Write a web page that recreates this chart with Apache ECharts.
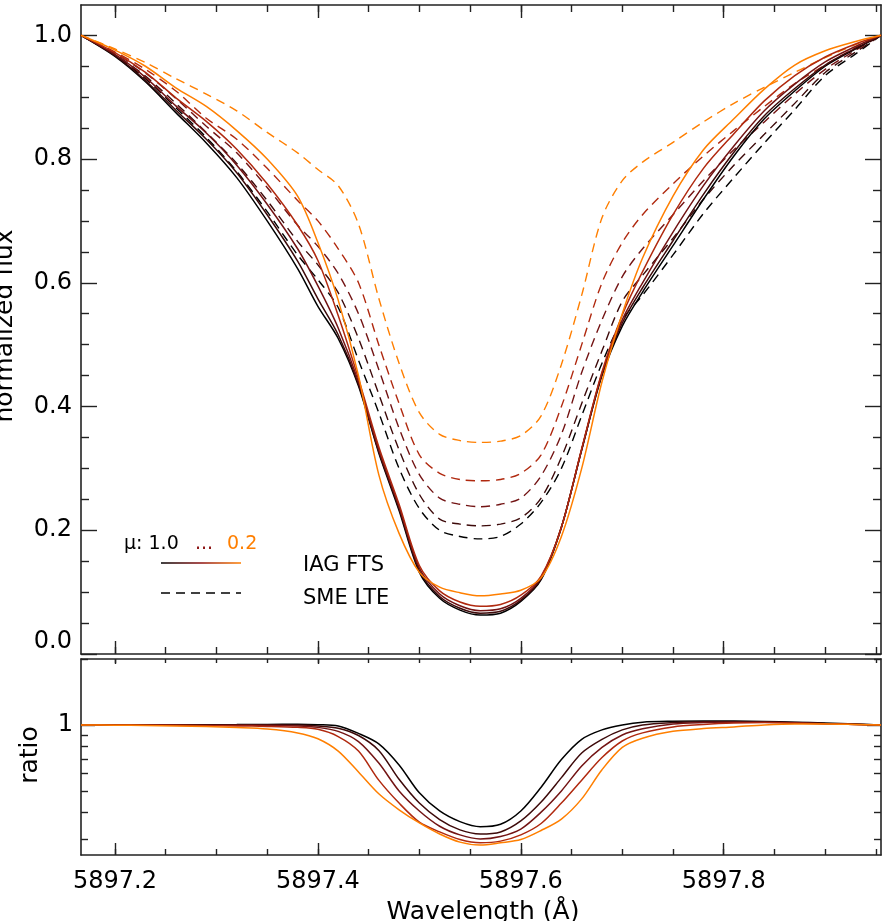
<!DOCTYPE html>
<html>
<head>
<meta charset="utf-8">
<title>Na D line centre-to-limb</title>
<script src="https://cdn.jsdelivr.net/npm/echarts@6/dist/echarts.min.js"></script>
<style>
  html, body { margin: 0; padding: 0; background: #fff; }
  #chart { width: 886px; height: 921px; }
</style>
</head>
<body>
<div id="chart"></div>
<script>
// wavelength grid (Angstrom)
const wavelength = [5897.1665, 5897.20, 5897.23, 5897.26, 5897.29, 5897.32, 5897.35, 5897.38, 5897.40, 5897.42,
  5897.44, 5897.46, 5897.48, 5897.50, 5897.52, 5897.54, 5897.56, 5897.58, 5897.60, 5897.62,
  5897.64, 5897.66, 5897.68, 5897.70, 5897.72, 5897.75, 5897.78, 5897.81, 5897.84, 5897.87,
  5897.90, 5897.93, 5897.955];

const muLabels = ['1.0', '0.8', '0.6', '0.4', '0.2'];
const muColors = ['#000000', '#3d0a0a', '#731414', '#b0290f', '#ff7f00'];

// IAG FTS observed profiles, one per mu
const iag10 = [1.0, .966, .925, .875, .826, .77, .70, .623, .562, .51, .433, .325, .232, .132, .09, .071, .063, .066, .085, .12, .205, .33, .45, .53, .585, .66, .735, .805, .865, .91, .95, .978, 1.0];
const iag08 = [1.0, .967, .927, .879, .832, .778, .71, .635, .574, .516, .436, .327, .235, .135, .093, .074, .066, .069, .087, .122, .205, .33, .452, .535, .592, .668, .743, .811, .87, .914, .952, .979, 1.0];
const iag06 = [1.0, .969, .932, .886, .842, .79, .727, .655, .595, .527, .44, .33, .238, .139, .097, .078, .07, .073, .09, .124, .205, .331, .454, .54, .60, .682, .757, .821, .878, .921, .957, .982, 1.0];
const iag04 = [1.0, .972, .94, .899, .861, .816, .76, .693, .636, .547, .445, .335, .242, .143, .102, .084, .077, .08, .095, .126, .205, .332, .456, .548, .618, .71, .785, .841, .894, .935, .965, .986, 1.0];
const iag02 = [1.0, .976, .95, .915, .885, .846, .80, .74, .665, .572, .45, .29, .195, .132, .108, .099, .094, .097, .103, .123, .19, .30, .44, .55, .64, .74, .815, .865, .913, .952, .975, .99, 1.0];

// SME LTE synthetic profiles
const sme10 = [1.0, .968, .93, .883, .835, .78, .715, .645, .605, .56, .475, .39, .30, .235, .2, .19, .186, .19, .21, .245, .30, .385, .47, .54, .58, .645, .712, .77, .826, .88, .935, .97, 1.0];
const sme08 = [1.0, .969, .934, .89, .843, .793, .733, .667, .629, .584, .51, .42, .33, .258, .218, .21, .207, .21, .22, .252, .318, .405, .49, .57, .612, .672, .735, .79, .84, .89, .94, .973, 1.0];
const sme06 = [1.0, .971, .939, .898, .853, .81, .754, .693, .659, .615, .55, .46, .365, .29, .252, .242, .238, .242, .252, .288, .355, .455, .54, .61, .655, .71, .765, .815, .86, .905, .945, .976, 1.0];
const sme04 = [1.0, .973, .945, .91, .866, .832, .785, .733, .70, .655, .60, .50, .405, .322, .292, .282, .28, .282, .292, .322, .40, .50, .60, .665, .71, .76, .805, .846, .885, .922, .952, .98, 1.0];
const sme02 = [1.0, .978, .956, .93, .905, .878, .843, .81, .783, .757, .695, .575, .47, .39, .355, .345, .342, .344, .353, .385, .468, .58, .705, .765, .795, .827, .86, .89, .916, .94, .964, .985, 1.0];

// ratio panel
const ratio10 = [1.0, 1.0, 1.0, 1.002, 1.003, 1.004, 1.006, 1.007, 1.003, .99, .915, .82, .657, .49, .405, .362, .343, .352, .405, .52, .695, .86, .95, 1.0, 1.03, 1.04, 1.043, 1.042, 1.038, 1.03, 1.02, 1.01, 1.0];
const ratio08 = [1.0, 1.0, 1.0, 1.0, 1.0, 1.001, 1.002, 1.0, .99, .966, .895, .765, .565, .44, .37, .332, .318, .325, .365, .445, .575, .745, .86, .95, 1.0, 1.025, 1.035, 1.035, 1.03, 1.025, 1.015, 1.008, 1.0];
const ratio06 = [1.0, 1.0, .999, .998, .998, .998, .995, .99, .975, .935, .84, .67, .50, .405, .345, .315, .302, .31, .335, .40, .50, .65, .79, .90, .96, 1.01, 1.025, 1.03, 1.028, 1.022, 1.012, 1.006, 1.0];
const ratio04 = [1.0, 1.0, .998, .996, .993, .99, .985, .975, .955, .885, .76, .56, .44, .36, .325, .30, .29, .295, .315, .355, .44, .56, .71, .845, .92, .98, 1.005, 1.02, 1.025, 1.02, 1.012, 1.006, 1.0];
const ratio02 = [1.0, .998, .995, .99, .983, .973, .958, .92, .865, .76, .61, .485, .41, .357, .318, .292, .283, .29, .30, .33, .372, .46, .625, .79, .87, .935, .963, .98, 1.0, 1.01, 1.01, 1.005, 1.0];

// tick values
const xMajor = [5897.2, 5897.4, 5897.6, 5897.8];
const xMinor = [5897.2, 5897.25, 5897.3, 5897.35, 5897.4, 5897.45, 5897.5, 5897.55, 5897.6, 5897.65, 5897.7, 5897.75, 5897.8, 5897.85, 5897.9, 5897.95];
const fluxMajor = [0, 0.2, 0.4, 0.6, 0.8, 1.0];
const fluxMinor = [0.05, 0.1, 0.15, 0.25, 0.3, 0.35, 0.45, 0.5, 0.55, 0.65, 0.7, 0.75, 0.85, 0.9, 0.95, 1.05];
const ratioMajor = [1];
const ratioMinor = [0.3, 0.4, 0.5, 0.6, 0.7, 0.8, 0.9, 2];

const xMin = 5897.1665, xMax = 5897.955;
const FONT = 'DejaVu Sans';
const INK = '#222';

const iagSets = [iag10, iag08, iag06, iag04, iag02];
const smeSets = [sme10, sme08, sme06, sme04, sme02];
const ratioSets = [ratio10, ratio08, ratio06, ratio04, ratio02];

function pairs(vals) {
  return vals.map((v, i) => [wavelength[i], v]);
}

// one axis = one side of a frame; major and minor ticks live in stacked grids
function xAx(grid, pos, ticks, len, line, labels) {
  return {
    type: 'value', gridIndex: grid, position: pos, min: xMin, max: xMax,
    axisLine: { show: line, onZero: false, lineStyle: { color: INK, width: 1.6 } },
    axisTick: { show: true, inside: true, length: len, customValues: ticks, lineStyle: { color: INK, width: 1.4 } },
    axisLabel: labels ? {
      show: true, customValues: xMajor, margin: 15, color: '#000',
      fontFamily: FONT, fontSize: 24, formatter: v => v.toFixed(1)
    } : { show: false },
    splitLine: { show: false }
  };
}

function yAx(grid, pos, kind, ticks, len, line, labels) {
  const ax = {
    type: kind, gridIndex: grid, position: pos,
    axisLine: { show: line, onZero: false, lineStyle: { color: INK, width: 1.6 } },
    axisTick: { show: true, inside: true, length: len, customValues: ticks, lineStyle: { color: INK, width: 1.4 } },
    axisLabel: { show: false },
    splitLine: { show: false }
  };
  if (kind === 'log') {
    ax.logBase = 10; ax.min = 0.255; ax.max = 2;
  } else {
    ax.min = 0; ax.max = 1.049;
  }
  if (labels) ax.axisLabel = labels;
  return ax;
}

const topRect = { left: 81, top: 5, width: 800, height: 649 };
const botRect = { left: 81, top: 659, width: 800, height: 196 };

const series = [];
smeSets.forEach((d, i) => {
  series.push({
    type: 'line', name: 'SME LTE mu=' + muLabels[i], xAxisIndex: 0, yAxisIndex: 0,
    data: pairs(d), showSymbol: false, smooth: 0.3, silent: true,
    lineStyle: { color: muColors[i], width: 1.4, type: [9, 6] }
  });
});
iagSets.forEach((d, i) => {
  series.push({
    type: 'line', name: 'IAG FTS mu=' + muLabels[i], xAxisIndex: 0, yAxisIndex: 0,
    data: pairs(d), showSymbol: false, smooth: 0.3, silent: true,
    lineStyle: { color: muColors[i], width: 1.5 }
  });
});
ratioSets.forEach((d, i) => {
  series.push({
    type: 'line', name: 'ratio mu=' + muLabels[i], xAxisIndex: 4, yAxisIndex: 4,
    data: pairs(d), showSymbol: false, smooth: 0.3, silent: true,
    lineStyle: { color: muColors[i], width: 1.5 }
  });
});

const chart = echarts.init(document.getElementById('chart'));
chart.setOption({
  animation: false,
  backgroundColor: '#fff',
  grid: [topRect, topRect, botRect, botRect],
  xAxis: [
    xAx(0, 'bottom', xMajor, 13, true, false),
    xAx(0, 'top', xMajor, 13, true, false),
    xAx(1, 'bottom', xMinor, 7, false, false),
    xAx(1, 'top', xMinor, 7, false, false),
    xAx(2, 'bottom', xMajor, 12, true, true),
    xAx(2, 'top', xMajor, 5, true, false),
    xAx(3, 'bottom', xMinor, 6, false, false),
    xAx(3, 'top', xMinor, 4, false, false)
  ],
  yAxis: [
    yAx(0, 'left', 'value', fluxMajor, 16, true, {
      show: true, customValues: fluxMajor, margin: 9, color: '#000',
      fontFamily: FONT, fontSize: 24, formatter: v => v.toFixed(1),
      verticalAlignMinLabel: 'bottom'
    }),
    yAx(0, 'right', 'value', fluxMajor, 16, true, null),
    yAx(1, 'left', 'value', fluxMinor, 8, false, null),
    yAx(1, 'right', 'value', fluxMinor, 8, false, null),
    yAx(2, 'left', 'log', ratioMajor, 14, true, {
      show: true, customValues: ratioMajor, margin: 8, color: '#000',
      fontFamily: FONT, fontSize: 24, formatter: () => '1'
    }),
    yAx(2, 'right', 'log', ratioMajor, 14, true, null),
    yAx(3, 'left', 'log', ratioMinor, 7, false, null),
    yAx(3, 'right', 'log', ratioMinor, 7, false, null)
  ],
  series: series,
  graphic: [
    // axis titles
    { type: 'text', x: 5, y: 326, rotation: Math.PI / 2, silent: true,
      style: { text: 'normalized flux', fill: '#000', font: '25px "' + FONT + '"',
        align: 'center', verticalAlign: 'middle', textAlign: 'center', textVerticalAlign: 'middle' } },
    { type: 'text', x: 30, y: 755, rotation: Math.PI / 2, silent: true,
      style: { text: 'ratio', fill: '#000', font: '25px "' + FONT + '"',
        align: 'center', verticalAlign: 'middle', textAlign: 'center', textVerticalAlign: 'middle' } },
    { type: 'text', x: 483, y: 912, silent: true,
      style: { text: 'Wavelength (Å)', fill: '#000', font: '25px "' + FONT + '"',
        align: 'center', verticalAlign: 'middle', textAlign: 'center', textVerticalAlign: 'middle' } },
    // legend
    { type: 'text', x: 124, y: 544, silent: true,
      style: { text: 'μ: 1.0', fill: '#000', font: '19px "' + FONT + '"',
        align: 'left', verticalAlign: 'middle', textAlign: 'left', textVerticalAlign: 'middle' } },
    { type: 'text', x: 195, y: 544, silent: true,
      style: { text: '...', fill: '#8b1010', font: '19px "' + FONT + '"',
        align: 'left', verticalAlign: 'middle', textAlign: 'left', textVerticalAlign: 'middle' } },
    { type: 'text', x: 227, y: 544, silent: true,
      style: { text: '0.2', fill: '#ff7f00', font: '19px "' + FONT + '"',
        align: 'left', verticalAlign: 'middle', textAlign: 'left', textVerticalAlign: 'middle' } },
    { type: 'line', silent: true, shape: { x1: 161, y1: 563, x2: 241, y2: 563 },
      style: { lineWidth: 1.5, stroke: { type: 'linear', x: 161, y: 0, x2: 241, y2: 0, global: true,
        colorStops: [{ offset: 0, color: '#000' }, { offset: 0.5, color: '#8b1010' }, { offset: 1, color: '#ff7f00' }] } } },
    { type: 'line', silent: true, shape: { x1: 161, y1: 593, x2: 241, y2: 593 },
      style: { lineWidth: 1.4, stroke: '#000', lineDash: [9, 6] } },
    { type: 'text', x: 303, y: 566, silent: true,
      style: { text: 'IAG FTS', fill: '#000', font: '21px "' + FONT + '"',
        align: 'left', verticalAlign: 'middle', textAlign: 'left', textVerticalAlign: 'middle' } },
    { type: 'text', x: 303, y: 599, silent: true,
      style: { text: 'SME LTE', fill: '#000', font: '21px "' + FONT + '"',
        align: 'left', verticalAlign: 'middle', textAlign: 'left', textVerticalAlign: 'middle' } }
  ]
});
</script>
</body>
</html>
